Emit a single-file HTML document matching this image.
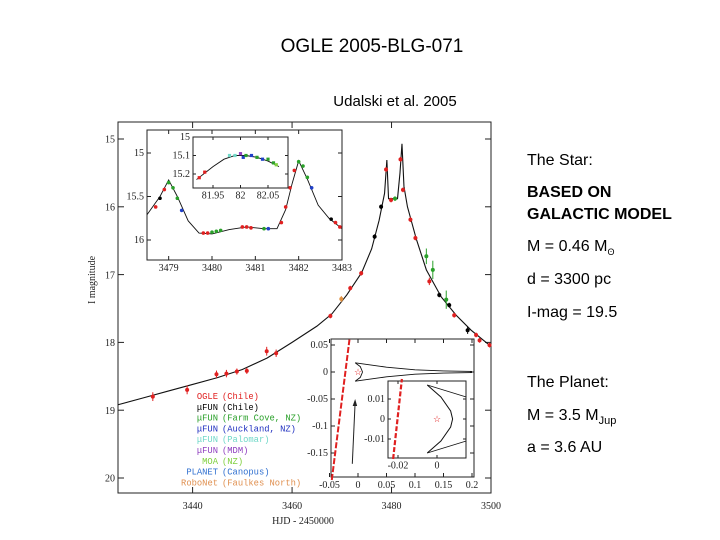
<!DOCTYPE html>
<html><head><meta charset="utf-8"><style>
body{margin:0;background:#fff;width:720px;height:540px;overflow:hidden}
svg{display:block}
.t{font-family:"Liberation Sans",sans-serif;fill:#000}
.ax{font-family:"Liberation Serif",serif;font-size:10px;fill:#222}
.lg{font-family:"Liberation Mono",monospace;font-size:8.8px}
</style></head><body>
<svg id="s" width="720" height="540" viewBox="0 0 720 540" xmlns="http://www.w3.org/2000/svg">
<text class="t" x="372" y="52" font-size="19" text-anchor="middle" fill="#000">OGLE 2005-BLG-071</text>
<text class="t" x="395" y="106" font-size="15" text-anchor="middle">Udalski et al. 2005</text>
<g class="t" font-size="16">
<text x="527" y="165">The Star:</text>
<text x="527" y="197" font-weight="bold">BASED ON</text>
<text x="527" y="219" font-weight="bold">GALACTIC MODEL</text>
<text x="527" y="251">M = 0.46 M<tspan font-size="9" dy="4">ʘ</tspan></text>
<text x="527" y="284">d = 3300 pc</text>
<text x="527" y="317">I-mag = 19.5</text>
<text x="527" y="387">The Planet:</text>
<text x="527" y="420">M = 3.5 M<tspan font-size="11" dy="4">Jup</tspan></text>
<text x="527" y="452">a = 3.6 AU</text>
</g>
<g id="chart"></g>
</svg>
<script>
// ---- main panel data ----
const mainTicksX = [3440, 3460, 3480, 3500];
const mainTicksY = [15, 16, 17, 18, 19, 20];
const modelDays = [3425,3430,3435,3440,3445,3450,3455,3460,3465,3468,3471,3474,3476,3477.5,3478.6,3479.06,3479.4,3480.2,3481.2,3481.7,3482.1,3482.5,3483.2,3485,3487,3490,3493,3496,3500];
const modelMags = [18.92,18.82,18.72,18.62,18.52,18.40,18.23,18.0,17.76,17.58,17.3,16.97,16.62,16.2,15.8,15.31,15.88,15.88,15.88,15.5,15.07,15.7,16.0,16.48,16.93,17.33,17.6,17.82,18.06];
const ptDays = [3432.0,3438.9,3444.8,3446.8,3448.9,3450.9,3454.9,3456.8,3467.7,3469.9,3471.7,3473.9,3476.6,3477.9,3483.8,3484.8,3487.6,3489.6,3491.6,3492.6,3495.3,3497.0,3497.7,3499.7,3487.0,3488.3,3491.0,3478.9,3479.9,3480.7,3481.8,3482.3];
const ptMags = [18.80,18.70,18.47,18.46,18.43,18.42,18.13,18.16,17.61,17.36,17.20,16.98,16.44,16.0,16.19,16.46,17.10,17.30,17.45,17.60,17.82,17.89,17.97,18.04,16.73,16.93,17.37,15.45,15.9,15.88,15.3,15.75];
const ptErr = [0.05,0.05,0.04,0.04,0.03,0.03,0.05,0.04,0.02,0.03,0.02,0.02,0.02,0.02,0.02,0.02,0.04,0.02,0.02,0.02,0.04,0.02,0.02,0.02,0.1,0.12,0.12,0.02,0.02,0.02,0.02,0.02];
const ptColors = ["r","r","r","r","r","r","r","r","r","o","r","r","k","k","r","r","r","k","k","r","k","r","r","r","g","g","g","r","r","g","r","r"];
// ---- inset 1 ----
const in1TicksX = [3479,3480,3481,3482,3483];
const in1TicksY = [15,15.5,16];
const in1TickLabelsY = ["15","15.5","16"];
const in1ModelDays = [3478.5,3478.8,3479.0,3479.2,3479.45,3479.7,3480.0,3480.4,3480.8,3481.2,3481.5,3481.7,3481.85,3482.0,3482.2,3482.45,3482.7,3483.0];
const in1ModelMags = [15.71,15.5,15.31,15.5,15.78,15.92,15.93,15.88,15.85,15.87,15.87,15.65,15.35,15.09,15.3,15.6,15.75,15.87];
const in1PtDays = [3478.7,3478.8,3478.9,3479.0,3479.1,3479.2,3479.3,3479.8,3479.9,3480.0,3480.1,3480.2,3480.7,3480.8,3480.9,3481.2,3481.3,3481.6,3481.7,3481.8,3481.9,3482.0,3482.1,3482.2,3482.3,3482.75,3482.85,3482.95];
const in1PtMags = [15.62,15.52,15.42,15.34,15.4,15.52,15.66,15.92,15.92,15.91,15.9,15.89,15.85,15.85,15.86,15.87,15.87,15.8,15.62,15.4,15.2,15.1,15.15,15.28,15.4,15.76,15.8,15.85];
const in1PtColors = ["r","k","r","g","g","g","b","r","r","g","g","g","r","r","r","g","b","r","r","r","r","g","g","g","b","k","r","r"];
// ---- inset 1a (zoom of peak) ----
const in1aTicksX = [81.95,82,82.05];
const in1aTicksY = [15,15.1,15.2];
const in1aModelX = [81.92,81.95,81.97,81.99,82.01,82.03,82.05,82.07];
const in1aModelY = [15.23,15.16,15.12,15.1,15.1,15.11,15.13,15.16];
const in1aPtX = [81.925,81.935,81.98,81.99,82.0,82.005,82.01,82.02,82.03,82.04,82.05,82.06,82.065];
const in1aPtY = [15.22,15.19,15.1,15.1,15.09,15.11,15.1,15.1,15.11,15.12,15.12,15.14,15.15];
const in1aPtColors = ["r","r","c","c","m","b","g","b","g","b","g","g","l"];
// ---- inset 2 (caustic) ----
const in2TicksX = [-0.05,0,0.05,0.1,0.15,0.2];
const in2TicksY = [0.05,0,-0.05,-0.1,-0.15];
const trajX = [-0.046,-0.015];
const trajY = [-0.2,0.06];
const causUpX = [0.008,0.004,-0.005,0.05,0.1,0.15,0.2];
const causUpY = [0,0.01,0.017,0.009,0.004,0.002,0.001];
const causLoX = [0.008,0.004,-0.005,0.05,0.1,0.15,0.2];
const causLoY = [0,-0.01,-0.017,-0.009,-0.004,-0.002,-0.001];
const in2bTicksX = [-0.02,0];
const in2bTicksY = [0.01,0,-0.01];
const arcX = [-0.005,0.002,0.007,0.008,0.007,0.002,-0.005];
const arcY = [0.017,0.011,0.004,0,-0.004,-0.011,-0.017];
const legNames = ["OGLE","μFUN","μFUN","μFUN","μFUN","μFUN","MOA","PLANET","RoboNet"];
const legSites = ["(Chile)","(Chile)","(Farm Cove, NZ)","(Auckland, NZ)","(Palomar)","(MDM)","(NZ)","(Canopus)","(Faulkes North)"];
const legColors = ["#e02020","#000","#2aa02a","#2030c0","#70d8c8","#9040c0","#80d040","#3070d0","#e09050"];

const COL = {r:"#e02020",k:"#000",g:"#2aa02a",b:"#2040c8",o:"#e09040",c:"#70d8c8",m:"#9040c0",l:"#80d040"};
const NS="http://www.w3.org/2000/svg";
const root=document.getElementById("chart");
function mk(tag,attrs,parent){const e=document.createElementNS(NS,tag);for(const k in attrs)e.setAttribute(k,attrs[k]);(parent||root).appendChild(e);return e;}
function lin(d0,d1,r0,r1){return v=>r0+(v-d0)*(r1-r0)/(d1-d0);}
function frame(x0,y0,x1,y1,name){
  const r=mk("rect",{x:x0,y:y0,width:x1-x0,height:y1-y0,fill:"#fff",stroke:"#222","stroke-width":1});
  
  
}
function ticks(xs,ys,sx,sy,x0,y0,x1,y1,labX,labY,fs,len,name,dy){
  const g=mk("g",{});
  
  
  xs.forEach((v,i)=>{const x=sx(v);
    mk("line",{x1:x,x2:x,y1:y1,y2:y1-len,stroke:"#222"},g);mk("line",{x1:x,x2:x,y1:y0,y2:y0+len,stroke:"#222"},g);
    const t=mk("text",{x:x,y:y1+fs+(dy||2),"text-anchor":"middle",class:"ax","font-size":fs},g);t.textContent=labX[i];});
  ys.forEach((v,i)=>{const y=sy(v);
    mk("line",{x1:x0,x2:x0+len,y1:y,y2:y,stroke:"#222"},g);mk("line",{x1:x1,x2:x1-len,y1:y,y2:y,stroke:"#222"},g);
    const t=mk("text",{x:x0-3,y:y+fs/3,"text-anchor":"end",class:"ax","font-size":fs},g);t.textContent=labY[i];});
}
function line(xs,ys,sx,sy,name,w){
  const p=mk("polyline",{points:xs.map((v,i)=>sx(v)+","+sy(ys[i])).join(" "),fill:"none",stroke:"#111","stroke-width":w||1.1});
  
  
}
// main
const mx0=118,mx1=491,my0=122,my1=493;
const X=lin(3425,3500,mx0,mx1), Y=lin(15,20,139,478);
frame(mx0,my0,mx1,my1,"main-plot-frame");
ticks(mainTicksX,mainTicksY,X,Y,mx0,my0,mx1,my1,mainTicksX.map(String),mainTicksY.map(String),11,6,"main-axes",5);
line(modelDays,modelMags,X,Y,"model-curve");
ptDays.forEach((d,i)=>{const x=X(d),y=Y(ptMags[i]),e=ptErr[i]*67.8;const c=COL[ptColors[i]];
  const l=mk("line",{x1:x,x2:x,y1:y-e-1,y2:y+e+1,stroke:c,"stroke-width":1});
  
  
  const p=mk("circle",{cx:x,cy:y,r:2,fill:c});
  
  
});
const xl=mk("text",{x:303,y:524,"text-anchor":"middle",class:"ax","font-size":10});xl.textContent="HJD - 2450000";


const yl=mk("text",{x:0,y:0,transform:"translate(95,280) rotate(-90)","text-anchor":"middle",class:"ax","font-size":10});yl.textContent="I magnitude";


// legend
legNames.forEach((n,i)=>{const y=399+i*10.8;
  const g=mk("g",{});
  
  
  const a=mk("text",{x:218,y:y,"text-anchor":"end",class:"lg",fill:legColors[i]},g);a.textContent=n;
  const b=mk("text",{x:222,y:y,class:"lg",fill:legColors[i]},g);b.textContent=legSites[i];
});
// inset 1
const ax0=147,ax1=342,ay0=130,ay1=260;
const X1=lin(3478.5,3483,ax0,ax1), Y1=lin(15,16,153,240);
frame(ax0,ay0,ax1,ay1,"caustic-inset-frame");
ticks(in1TicksX,in1TicksY,X1,Y1,ax0,ay0,ax1,ay1,in1TicksX.map(String),in1TickLabelsY,9,4,"caustic-inset-axes");
line(in1ModelDays,in1ModelMags,X1,Y1,"caustic-inset-model",0.9);
in1PtDays.forEach((d,i)=>{const p=mk("circle",{cx:X1(d),cy:Y1(in1PtMags[i]),r:1.8,fill:COL[in1PtColors[i]]});
  
  });
// inset 1a
const bx0=193,bx1=288,by0=137,by1=188;
const X1a=lin(81.95,82.05,213,268), Y1a=lin(15,15.2,137,174);
frame(bx0,by0,bx1,by1,"peak-inset-frame");
ticks(in1aTicksX,in1aTicksY,X1a,Y1a,bx0,by0,bx1,by1,["81.95","82","82.05"],["15","15.1","15.2"],8.5,3,"peak-inset-axes");
line(in1aModelX,in1aModelY,X1a,Y1a,"peak-inset-model",0.9);
in1aPtX.forEach((d,i)=>{const p=mk("rect",{x:X1a(d)-1.6,y:Y1a(in1aPtY[i])-1.6,width:3.2,height:3.2,fill:COL[in1aPtColors[i]]});
  
  });
// inset 2
const cx0=331,cx1=474,cy0=339,cy1=477;
const X2=lin(0,0.2,358,472), Y2=lin(0,0.05,372,345);
frame(cx0,cy0,cx1,cy1,"geometry-inset-frame");
ticks(in2TicksX,in2TicksY,X2,Y2,cx0,cy0,cx1,cy1,in2TicksX.map(String),in2TicksY.map(String),9,4,"geometry-inset-axes");
const tr=mk("line",{x1:X2(trajX[0]),y1:Y2(trajY[0]),x2:X2(trajX[1]),y2:Y2(trajY[1]),stroke:"#e02020","stroke-width":2,"stroke-dasharray":"6 2"});


line(causUpX,causUpY,X2,Y2,"caustic-upper",0.9);
line(causLoX,causLoY,X2,Y2,"caustic-lower",0.9);
const ar=mk("line",{x1:X2(-0.01),y1:Y2(-0.17),x2:X2(-0.005),y2:Y2(-0.055),stroke:"#222","stroke-width":1});


mk("polygon",{points:`${X2(-0.005)},${Y2(-0.05)} ${X2(-0.005)-2.5},${Y2(-0.05)+7} ${X2(-0.005)+2},${Y2(-0.05)+7}`,fill:"#222"});
const st=mk("text",{x:X2(0),y:Y2(0)+3,"text-anchor":"middle","font-size":9,fill:"#e02020"});st.textContent="☆";


// inset 2b
const dx0=388,dx1=466,dy0=381,dy1=458;
const X2b=lin(-0.02,0,398,437), Y2b=lin(0,0.01,419,399);
frame(dx0,dy0,dx1,dy1,"zoom-geometry-inset-frame");
ticks(in2bTicksX,in2bTicksY,X2b,Y2b,dx0,dy0,dx1,dy1,["-0.02","0"],["0.01","0","-0.01"],8.5,3,"zoom-geometry-axes");
const tr2=mk("line",{x1:X2b(-0.0225),y1:Y2b(-0.02),x2:X2b(-0.018),y2:Y2b(0.02),stroke:"#e02020","stroke-width":2.2,"stroke-dasharray":"5 2"});


line(arcX,arcY,X2b,Y2b,"zoom-caustic-arc",1);
line([-0.005,0.015],[0.017,0.011],X2b,Y2b,"zoom-caustic-upper",0.9);
line([-0.005,0.015],[-0.017,-0.011],X2b,Y2b,"zoom-caustic-lower",0.9);
const st2=mk("text",{x:X2b(0),y:Y2b(0)+3,"text-anchor":"middle","font-size":9,fill:"#e02020"});st2.textContent="☆";


</script>
</body></html>
